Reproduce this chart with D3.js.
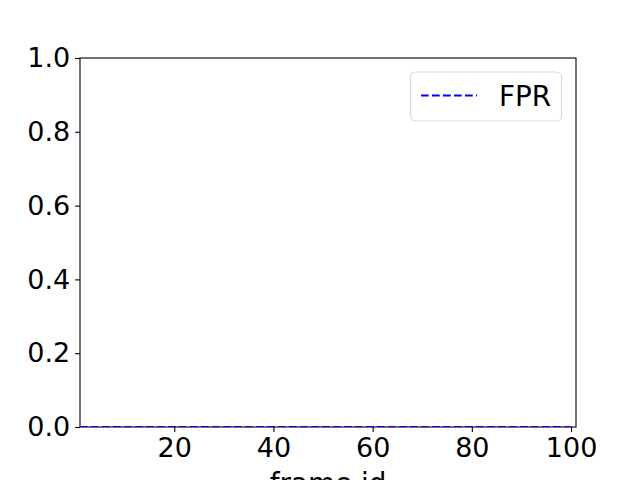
<!DOCTYPE html>
<html>
<head>
<meta charset="utf-8">
<script src="https://cdn.jsdelivr.net/npm/d3@7"></script>
<style>
  body { margin: 0; background: #fff; }
  text { font-family: "DejaVu Sans", sans-serif; fill: #000; }
</style>
</head>
<body>
<script>
// data: FPR per frame (all zero in the reference)
var frameIds = d3.range(1, 101);
var fprValues = frameIds.map(function() { return 0; });
var xTicks = [20, 40, 60, 80, 100];
var yTicks = [0, 0.2, 0.4, 0.6, 0.8, 1.0];
var seriesName = "FPR";

var svgWidth = 640;
var svgHeight = 480;
var margin = { top: 58, right: 64, bottom: 53, left: 80 };
var width = svgWidth - margin.left - margin.right;
var height = svgHeight - margin.top - margin.bottom;

var svg = d3.select("body").append("svg")
  .attr("width", svgWidth)
  .attr("height", svgHeight);

svg.append("defs").append("clipPath").attr("id", "plotclip")
  .append("rect").attr("width", width).attr("height", height);

var chartGroup = svg.append("g")
  .attr("transform", `translate(${margin.left}, ${margin.top})`);

var xScale = d3.scaleLinear().domain([1, 101]).range([0, width]);
var yScale = d3.scaleLinear().domain([0, 1]).range([height, 0]);

// axes
var bottomAxis = d3.axisBottom(xScale).tickValues(xTicks).tickSize(4.9).tickPadding(4.9).tickFormat(d3.format("d"));
var leftAxis = d3.axisLeft(yScale).tickValues(yTicks).tickSize(4.9).tickPadding(4.9).tickFormat(d3.format(".1f"));

var xg = chartGroup.append("g").attr("transform", `translate(0, ${height})`).call(bottomAxis);
var yg = chartGroup.append("g").call(leftAxis);
[xg, yg].forEach(function(g) {
  g.select(".domain").remove();
  g.selectAll(".tick line").attr("stroke", "#000").attr("stroke-width", 1.1);
  g.selectAll(".tick text").attr("font-size", "27px").attr("fill", "#000")
    .style("font-family", "DejaVu Sans, sans-serif");
});
xg.selectAll(".tick text").attr("dy", "0.74em");

// spines
chartGroup.append("rect")
  .attr("width", width).attr("height", height)
  .attr("fill", "none").attr("stroke", "#000").attr("stroke-width", 1.1);

// line
var line = d3.line()
  .x(function(d, i) { return xScale(frameIds[i]); })
  .y(function(d) { return yScale(d); });

chartGroup.append("path")
  .datum(fprValues)
  .attr("clip-path", "url(#plotclip)")
  .attr("fill", "none")
  .attr("stroke", "#0000ff")
  .attr("stroke-width", 2.1)
  .attr("stroke-dasharray", "7.7,3.3")
  .attr("d", line);

// x label
chartGroup.append("text")
  .attr("x", width / 2)
  .attr("y", height + 66)
  .attr("text-anchor", "middle")
  .attr("font-size", "27.8px")
  .text("frame id");

// legend
var legend = chartGroup.append("g").attr("transform", `translate(${width - 14 - 152}, 13.5)`);
legend.append("rect")
  .attr("x", 0.5).attr("y", 0.5)
  .attr("width", 151).attr("height", 49)
  .attr("rx", 5).attr("ry", 5)
  .attr("fill", "#fff").attr("fill-opacity", 0.8)
  .attr("stroke", "#d9d9d9").attr("stroke-width", 1.1);
legend.append("line")
  .attr("x1", 11).attr("x2", 67)
  .attr("y1", 24).attr("y2", 24)
  .attr("stroke", "#0000ff").attr("stroke-width", 2.1)
  .attr("stroke-dasharray", "7.7,3.3");
legend.append("text")
  .attr("x", 89).attr("y", 34)
  .attr("font-size", "27.8px")
  .text(seriesName);
</script>
</body>
</html>
